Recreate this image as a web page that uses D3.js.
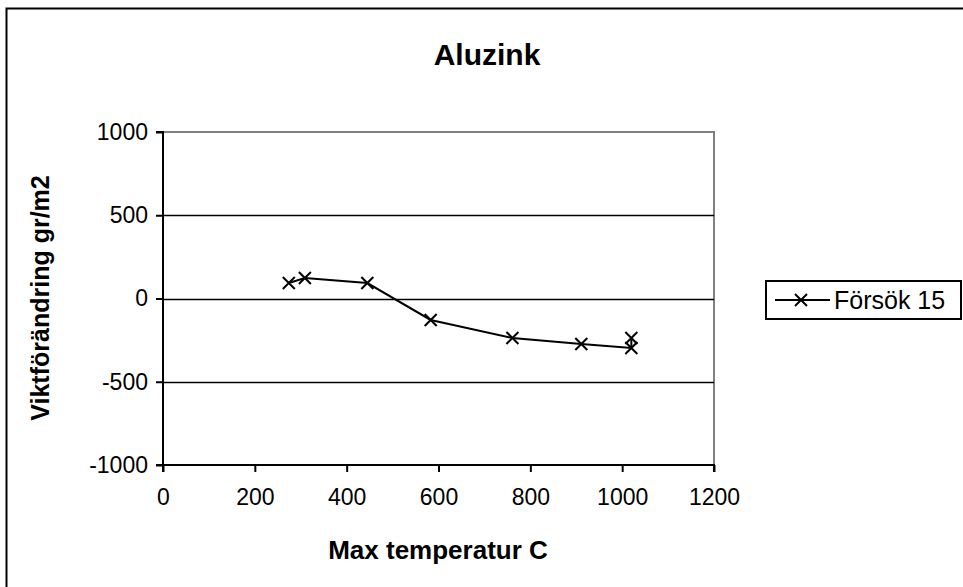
<!DOCTYPE html>
<html><head><meta charset="utf-8">
<script src="https://cdn.jsdelivr.net/npm/d3@7"></script>
<style>body{margin:0;background:#fff}svg{display:block;font-family:"Liberation Sans",Arial,sans-serif}</style>
</head><body>
<svg id="c" width="963" height="587"></svg>
<script>
const title = "Aluzink";
const xLabel = "Max temperatur C";
const yLabel = "Viktförändring gr/m2";
const seriesName = "Försök 15";
const xValues = [274, 309, 445, 583, 761, 911, 1020, 1020];
const yValues = [93, 123, 93, -129, -237, -273, -297, -237];
const xTicks = [0, 200, 400, 600, 800, 1000, 1200];
const yTicks = [-1000, -500, 0, 500, 1000];

const svg = d3.select("#c");
const L = 163, R = 714, T = 132, B = 465;
const x = d3.scaleLinear().domain([0, 1200]).range([L, R]);
const y = d3.scaleLinear().domain([-1000, 1000]).range([B, T]);
const FONT = '"Liberation Sans",Arial,sans-serif';

// outer frame
svg.append("rect").attr("x", 6.5).attr("y", 8.5).attr("width", 970).attr("height", 600)
  .attr("fill", "none").attr("stroke", "#000").attr("stroke-width", 2);

// plot border (gray top/right)
svg.append("path").attr("d", `M${L},${T}H${R}V${B}`).attr("fill", "none")
  .attr("stroke", "#808080").attr("stroke-width", 2);

// gridlines
svg.append("g").selectAll("line").data(yTicks.filter(v => v > -1000 && v < 1000)).join("line")
  .attr("x1", L).attr("x2", R).attr("y1", d => Math.round(y(d)) + 0.5).attr("y2", d => Math.round(y(d)) + 0.5)
  .attr("stroke", "#000").attr("stroke-width", 1.3);

// axes
const yAxis = svg.append("g").attr("transform", `translate(${L},0)`)
  .call(d3.axisLeft(y).tickValues(yTicks).tickSize(7).tickPadding(8).tickFormat(d => String(d)));
const xAxis = svg.append("g").attr("transform", `translate(0,${B})`)
  .call(d3.axisBottom(x).tickValues(xTicks).tickSize(7).tickPadding(17).tickFormat(d => String(d)));
[yAxis, xAxis].forEach(a => {
  a.attr("font-size", 23).attr("font-family", FONT);
  a.select(".domain").attr("stroke", "#000").attr("stroke-width", 2);
  a.selectAll(".tick line").attr("stroke", "#000").attr("stroke-width", 2);
  a.selectAll("text").attr("fill", "#000");
});
xAxis.select(".domain").attr("d", `M${L},7V0H${R}V7`);
yAxis.select(".domain").attr("d", `M-7,${T}H0V${B}H-7`);

// line
const pts = xValues.map((v, i) => [v, yValues[i]]);
svg.append("path").datum(pts)
  .attr("d", d3.line().x(d => x(d[0])).y(d => y(d[1])))
  .attr("fill", "none").attr("stroke", "#000").attr("stroke-width", 2);

const s = 6;
function cross(g, cx, cy) {
  g.append("path").attr("d", `M${cx - s},${cy - s}L${cx + s},${cy + s}M${cx - s},${cy + s}L${cx + s},${cy - s}`)
    .attr("stroke", "#000").attr("stroke-width", 2).attr("fill", "none");
}
const mg = svg.append("g");
pts.forEach(d => cross(mg, x(d[0]), y(d[1])));

// title and labels
svg.append("text").attr("x", 487).attr("y", 65).attr("text-anchor", "middle")
  .attr("font-size", 30).attr("font-weight", "bold").text(title);
svg.append("text").attr("x", 438).attr("y", 559).attr("text-anchor", "middle")
  .attr("font-size", 26).attr("font-weight", "bold").text(xLabel);
svg.append("text").attr("transform", "translate(49,298) rotate(-90)").attr("text-anchor", "middle")
  .attr("font-size", 25).attr("font-weight", "bold").text(yLabel);

// legend
const lg = svg.append("g");
lg.append("rect").attr("x", 766).attr("y", 281).attr("width", 195).attr("height", 38)
  .attr("fill", "#fff").attr("stroke", "#000").attr("stroke-width", 2);
lg.append("line").attr("x1", 775).attr("x2", 830).attr("y1", 300).attr("y2", 300)
  .attr("stroke", "#000").attr("stroke-width", 2);
cross(lg, 801, 300);
lg.append("text").attr("x", 834).attr("y", 309).attr("font-size", 25).text(seriesName);
</script>
</body></html>
